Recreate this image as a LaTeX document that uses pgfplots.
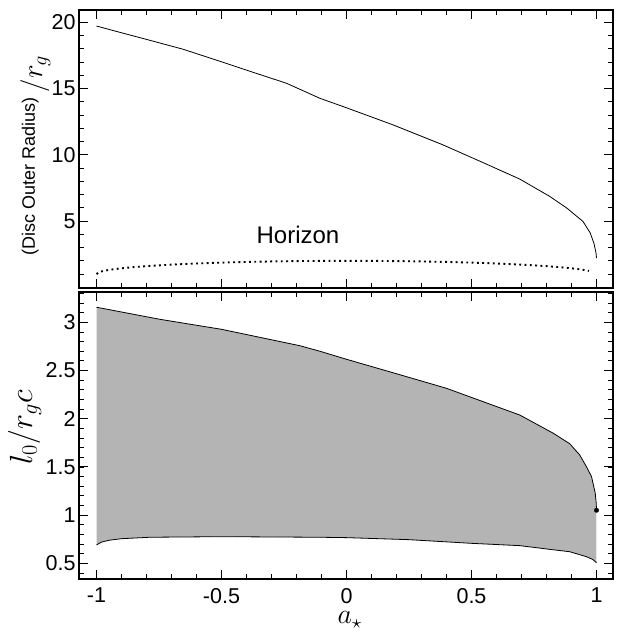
\RequirePackage{fix-cm}
\documentclass[border=0pt]{standalone}
\usepackage{pgfplots}
\pgfplotsset{compat=1.18}
\usepackage{fontspec}
\setmainfont{Liberation Sans}
\definecolor{fillgray}{RGB}{180,180,180}
\pgfplotsset{
  myaxis/.style={
    scale only axis, width=534pt,
    xmin=-1.07, xmax=1.066,
    xtick={-1,-0.5,0,0.5,1},
    minor xtick={-1,-0.9,...,1},
    tick align=inside,
    major tick length=9pt, minor tick length=5pt,
    every major tick/.style={black, line width=1pt},
    every minor tick/.style={black, line width=0.7pt},
    axis line style={line width=1.3pt},
    ticklabel style={font=\fontsize{21.5}{25}\selectfont},
    /pgf/number format/assume math mode=true,
    xtick pos=both, ytick pos=both,
    clip=false,
  }
}
\begin{document}
\begin{tikzpicture}
\path[use as bounding box] (0pt,0pt) rectangle (621pt,631pt);
% ---------------- top panel
\begin{axis}[myaxis, at={(79pt,343pt)}, anchor=south west, height=278pt,
  xticklabels={},
  ymin=-0.05, ymax=20.93,
  ytick={0,5,10,15,20}, yticklabels={,5,10,15,20},
  minor ytick={0,1,...,20},
  ylabel={\fontsize{18}{20}\selectfont(Disc Outer Radius)\hspace{5pt}\raisebox{-7pt}{\fontsize{29}{32}\selectfont$/r_g$}},
  ylabel style={at={(axis description cs:-0.0824,0.477)}, anchor=base},
]
\addplot[black, line width=0.8pt] coordinates {
(-1,19.72) (-0.9,19.21) (-0.8,18.71) (-0.654,17.97) (-0.5,17.02) (-0.35,16.08)
(-0.24,15.4) (-0.107,14.27) (0,13.55) (0.186,12.26) (0.386,10.75) (0.55,9.38)
(0.693,8.17) (0.813,6.86) (0.88,6.0) (0.946,4.97) (0.975,4.1) (0.99,3.3)
(0.998,2.6) (1.0,2.2)};
\addplot[black, line width=1.9pt, dash pattern=on 1.9pt off 3.4pt] coordinates {
(-1,1.0) (-0.99,1.141) (-0.98,1.199) (-0.96,1.28) (-0.94,1.341) (-0.9,1.436)
(-0.85,1.527) (-0.8,1.6) (-0.7,1.714) (-0.6,1.8) (-0.5,1.866) (-0.4,1.917)
(-0.3,1.954) (-0.2,1.98) (-0.1,1.995) (0,2.0) (0.1,1.995) (0.2,1.98)
(0.3,1.954) (0.4,1.917) (0.5,1.866) (0.6,1.8) (0.7,1.714) (0.8,1.6)
(0.85,1.527) (0.9,1.436) (0.94,1.341) (0.97,1.243)};
\node[font=\fontsize{24}{28}\selectfont, anchor=base] at (axis cs:-0.194,3.34) {Horizon};
\end{axis}
% ---------------- bottom panel
\begin{axis}[myaxis, at={(79pt,52pt)}, anchor=south west, height=287pt,
  xticklabels={-1,-0.5,0,0.5,1},
  xticklabel style={inner sep=1pt, yshift=-8pt},
  ymin=0.337, ymax=3.314,
  ytick={0.5,1,1.5,2,2.5,3}, yticklabels={0.5,1,1.5,2,2.5,3},
  minor ytick={0.4,0.5,...,3.3},
  ylabel={\fontsize{32}{36}\selectfont$l_0/r_g c$},
  ylabel style={at={(axis description cs:-0.088,0.528)}, anchor=base},
  xlabel={\fontsize{28}{32}\selectfont$a_\star$},
  xlabel style={at={(axis description cs:0.507,0)}, anchor=base, inner sep=0pt, yshift=-45pt},
]
\addplot[fill=fillgray, draw=none] coordinates {
(-1,3.156) (-0.747,3.031) (-0.5,2.927) (-0.187,2.757) (-0.107,2.70) (0,2.616)
(0.2,2.466) (0.4,2.315) (0.55,2.173) (0.693,2.038) (0.827,1.849) (0.893,1.74)
(0.933,1.623) (0.96,1.50) (0.98,1.40) (0.995,1.226) (0.999,1.12) (1.0,1.05)
(1.0,0.506) (0.985,0.54) (0.96,0.568) (0.893,0.62) (0.827,0.64) (0.693,0.683)
(0.5,0.707) (0.25,0.745) (0,0.766) (-0.107,0.77) (-0.5,0.776) (-0.787,0.77)
(-0.9,0.755) (-0.947,0.74) (-0.98,0.72) (-1,0.69)} -- cycle;
\addplot[black, line width=0.8pt] coordinates {
(-1,3.156) (-0.747,3.031) (-0.5,2.927) (-0.187,2.757) (-0.107,2.70) (0,2.616)
(0.2,2.466) (0.4,2.315) (0.55,2.173) (0.693,2.038) (0.827,1.849) (0.893,1.74)
(0.933,1.623) (0.96,1.50) (0.98,1.40) (0.995,1.226) (0.999,1.12) (1.0,1.05)};
\addplot[black, line width=0.8pt] coordinates {
(-1,0.69) (-0.98,0.72) (-0.947,0.74) (-0.9,0.755) (-0.787,0.77) (-0.5,0.776)
(-0.107,0.77) (0,0.766) (0.25,0.745) (0.5,0.707) (0.693,0.683) (0.827,0.64)
(0.893,0.62) (0.96,0.568) (0.985,0.54) (1.0,0.506)};
\addplot[draw=black!8, line width=1.2pt] coordinates {(1,1.03) (1,0.52)};
\addplot[only marks, mark=*, mark size=2.2pt, mark options={fill=black, draw=black}] coordinates {(1,1.05)};
\end{axis}
\end{tikzpicture}
\end{document}
